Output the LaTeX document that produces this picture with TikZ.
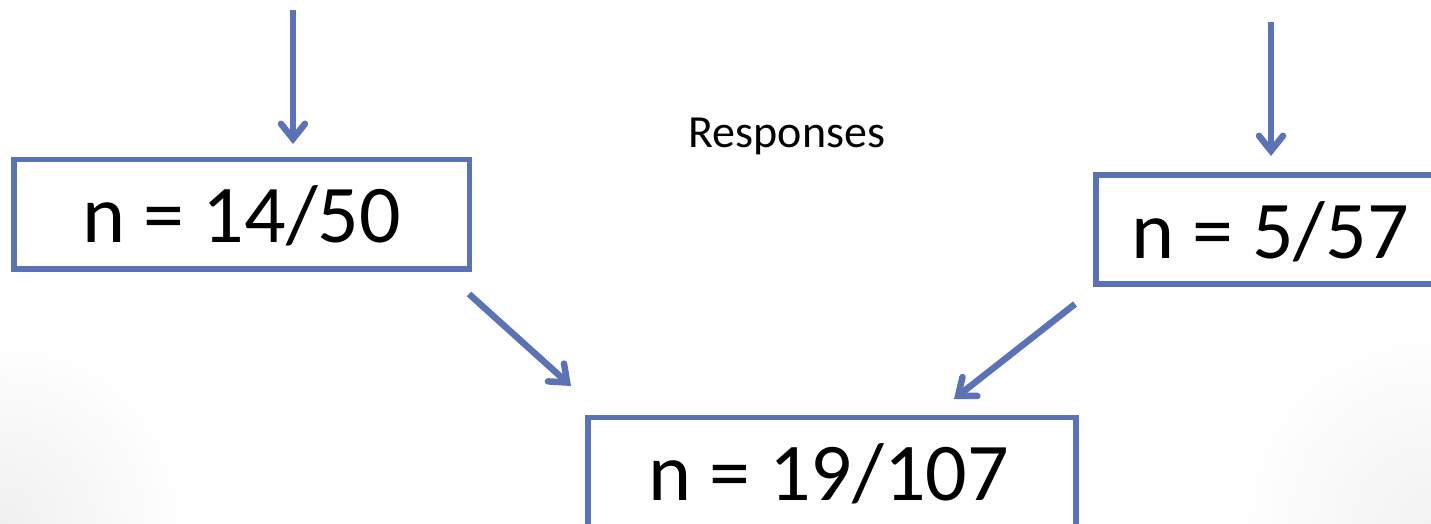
\documentclass[tikz,border=0pt]{standalone}
\usepackage{fontspec}
\setmainfont{Carlito}
\usetikzlibrary{arrows.meta}
\definecolor{flowblue}{RGB}{91,114,181}
\tikzset{
  countbox/.style={draw=flowblue, line width=5.5pt, fill=white, inner sep=0pt},
  countlabel/.style={anchor=base, inner sep=0pt, font=\fontsize{82}{90}\selectfont},
  flowarrow/.style={draw=flowblue, line width=6.5pt,
    -{Straight Barb[length=15pt,width=24pt,line cap=round,line join=miter]}}
}
\begin{document}
\begin{tikzpicture}[x=1pt,y=-1pt]
  \useasboundingbox (0,0) rectangle (1431,523);

  % soft grey in the lower corners of the slide background
  \begin{scope}
    \clip (0,0) rectangle (1431,523);
    \shade[inner color=black!6, outer color=white] (0,523) circle (190);
    \shade[inner color=black!5, outer color=white] (1431,523) circle (200);
  \end{scope}

  % count boxes
  \node[countbox, minimum width=455.5pt, minimum height=109.5pt] (left) at (241.75,214.25) {};
  \node[countbox, minimum width=348pt, minimum height=109pt] (right) at (1270,229.5) {};
  \node[countbox, minimum width=488pt, minimum height=150pt] (total) at (832,492.5) {};

  \node[countlabel] (lefttext) at (241.5,242) {n = 14/50};
  \node[countlabel] (righttext) at (1270,258) {n = 5/57};
  \node[countlabel] (totaltext) at (828.5,500) {n = 19/107};

  \node[anchor=base, inner sep=0pt, font=\fontsize{46}{52}\selectfont] (resp) at (787,147) {Responses};

  % arrow end points
  \coordinate (lin) at (293,10);
  \coordinate (ltip) at (293,144);
  \coordinate (rin) at (1271,22);
  \coordinate (rtip) at (1271,156);
  \coordinate (dls) at (469,294);
  \coordinate (dlt) at (571,386);
  \coordinate (drs) at (1075,304);
  \coordinate (drt) at (954,399);

  \draw[flowarrow] (lin) -- (ltip);
  \draw[flowarrow] (rin) -- (rtip);
  \draw[flowarrow] (dls) -- (dlt);
  \draw[flowarrow] (drs) -- (drt);
\end{tikzpicture}
\end{document}
